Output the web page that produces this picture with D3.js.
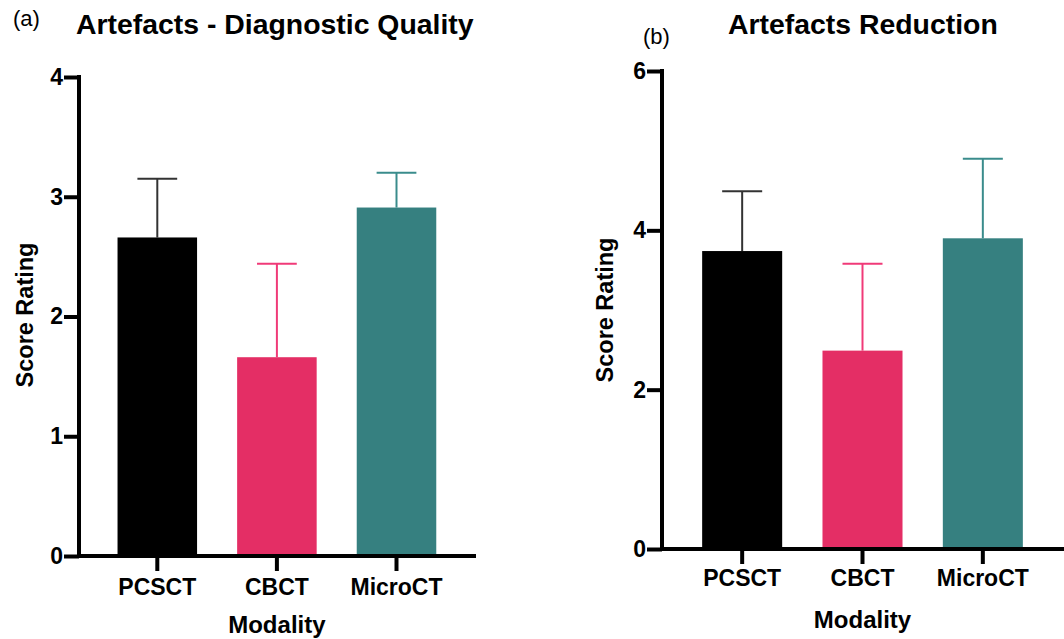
<!DOCTYPE html>
<html>
<head>
<meta charset="utf-8">
<script src="https://cdn.jsdelivr.net/npm/d3@7"></script>
<style>
  body { margin: 0; background: #fff; }
  svg text { font-family: "Liberation Sans", Arial, sans-serif; }
</style>
</head>
<body>
<div id="chart"></div>
<script>
const categories = ["PCSCT", "CBCT", "MicroCT"];
const colors = ["#000000", "#e42e65", "#368080"];
const errColors = ["#333333", "#f03a78", "#3a8c8c"];

// (a) Artefacts - Diagnostic Quality
const qualityMean = [2.66, 1.66, 2.91];
const qualityErr = [3.15, 2.44, 3.20];
const qualityTicks = [0, 1, 2, 3, 4];

// (b) Artefacts Reduction
const reductionMean = [3.74, 2.49, 3.90];
const reductionErr = [4.49, 3.58, 4.90];
const reductionTicks = [0, 2, 4, 6];

const width = 1064;
const height = 639;

const svg = d3.select("#chart")
  .append("svg")
  .attr("width", width)
  .attr("height", height);

function drawPanel(p) {
  const g = svg.append("g");

  const x = d3.scaleBand()
    .domain(categories)
    .range(p.xRange)
    .paddingInner(0.335)
    .paddingOuter(0.1675);

  const y = d3.scaleLinear()
    .domain(p.yDomain)
    .range(p.yRange);

  const rows = categories.map((c, i) => ({ c, i, mean: p.mean[i], err: p.err[i] }));

  // error bars (drawn before bars so the stem starts at the bar top)
  const eb = g.append("g")
    .selectAll("g")
    .data(rows)
    .join("g")
    .attr("stroke", d => errColors[d.i])
    .attr("stroke-width", 2);

  eb.append("line")
    .attr("x1", d => x(d.c) + x.bandwidth() / 2)
    .attr("x2", d => x(d.c) + x.bandwidth() / 2)
    .attr("y1", d => y(d.mean))
    .attr("y2", d => y(d.err));

  eb.append("line")
    .attr("x1", d => x(d.c) + x.bandwidth() / 4)
    .attr("x2", d => x(d.c) + x.bandwidth() * 3 / 4)
    .attr("y1", d => y(d.err))
    .attr("y2", d => y(d.err));

  g.append("g")
    .selectAll("rect")
    .data(rows)
    .join("rect")
    .attr("x", d => x(d.c))
    .attr("y", d => y(d.mean))
    .attr("width", x.bandwidth())
    .attr("height", d => y(0) - y(d.mean))
    .attr("fill", d => colors[d.i]);

  // y axis
  const yAxis = g.append("g")
    .attr("transform", `translate(${p.axisX},0)`)
    .call(d3.axisLeft(y).tickValues(p.ticks).tickFormat(d3.format("d")).tickSize(15).tickSizeOuter(0).tickPadding(1));
  yAxis.select(".domain").remove();
  yAxis.selectAll(".tick line").attr("stroke-width", 4).attr("stroke", "#000");
  yAxis.selectAll("text")
    .attr("fill", "#000")
    .style("font-size", "23px")
    .style("font-weight", "bold");
  yAxis.append("line")
    .attr("x1", 0).attr("x2", 0)
    .attr("y1", y(p.yDomain[1]) - 2)
    .attr("y2", y(0) + 2)
    .attr("stroke", "#000")
    .attr("stroke-width", 4);

  // x axis
  const xAxis = g.append("g")
    .attr("transform", `translate(0,${y(0)})`)
    .call(d3.axisBottom(x).tickSize(15).tickSizeOuter(0).tickPadding(p.xPad));
  xAxis.select(".domain").remove();
  xAxis.selectAll(".tick line").attr("stroke-width", 4).attr("stroke", "#000");
  xAxis.selectAll("text")
    .attr("fill", "#000")
    .style("font-size", "23px")
    .style("font-weight", "bold");
  xAxis.append("line")
    .attr("x1", p.axisX - 2)
    .attr("x2", p.xEnd)
    .attr("y1", 0).attr("y2", 0)
    .attr("stroke", "#000")
    .attr("stroke-width", 4);

  // axis titles
  g.append("text")
    .attr("x", (x.range()[0] + x.range()[1]) / 2)
    .attr("y", p.xTitleY)
    .attr("text-anchor", "middle")
    .style("font-size", "24px")
    .style("font-weight", "bold")
    .text("Modality");

  g.append("text")
    .attr("transform", `translate(${p.yTitleX},${p.yTitleY}) rotate(-90)`)
    .attr("text-anchor", "middle")
    .style("font-size", "23.5px")
    .style("font-weight", "bold")
    .text("Score Rating");

  // panel letter and title
  g.append("text")
    .attr("x", p.letterX)
    .attr("y", p.letterY)
    .style("font-size", "22px")
    .text(p.letter);

  g.append("text")
    .attr("x", p.titleX)
    .attr("y", 34)
    .style("font-size", "28.4px")
    .style("font-weight", "bold")
    .text(p.title);
}

drawPanel({
  mean: qualityMean, err: qualityErr, ticks: qualityTicks,
  yDomain: [0, 4], yRange: [556, 77],
  xRange: [97.5, 456.3], axisX: 79, xEnd: 476,
  xPad: 8, xTitleY: 633, yTitleX: 33, yTitleY: 315,
  letter: "(a)", letterX: 13, letterY: 26, title: "Artefacts - Diagnostic Quality", titleX: 76
});

drawPanel({
  mean: reductionMean, err: reductionErr, ticks: reductionTicks,
  yDomain: [0, 6], yRange: [549, 71],
  xRange: [682, 1043], axisX: 662, xEnd: 1064,
  xPad: 6, xTitleY: 628, yTitleX: 613, yTitleY: 310,
  letter: "(b)", letterX: 643, letterY: 44, title: "Artefacts Reduction", titleX: 728
});
</script>
</body>
</html>
